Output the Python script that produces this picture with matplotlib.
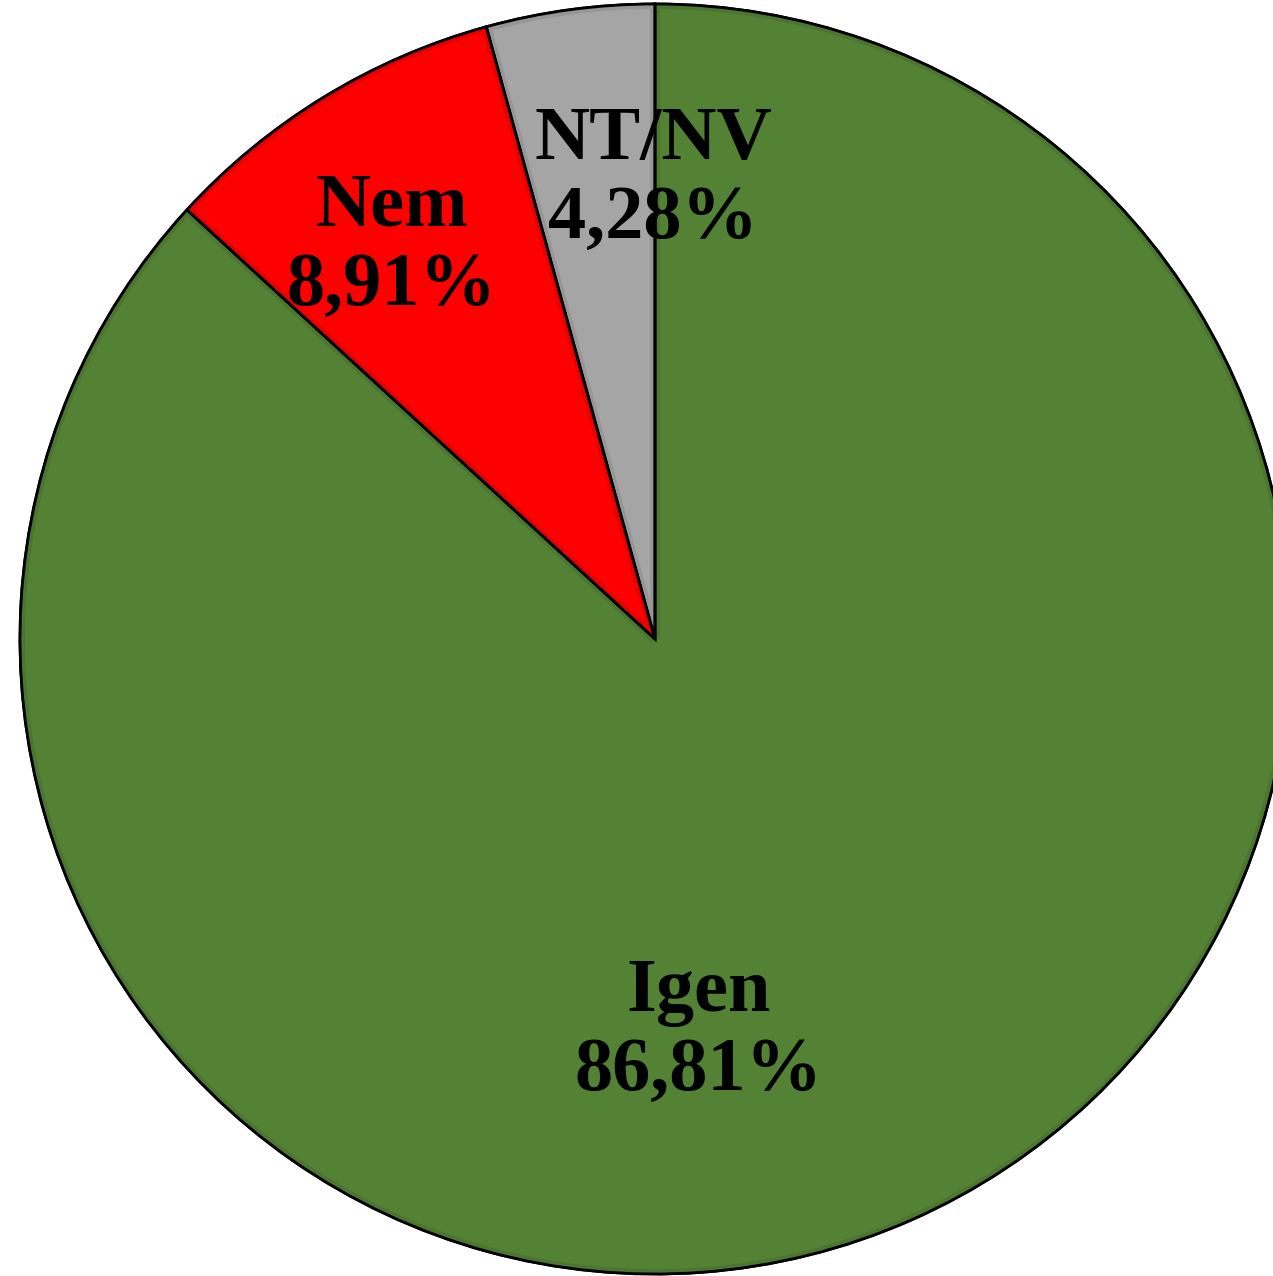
import matplotlib.pyplot as plt
from matplotlib.patches import Wedge, Rectangle

# data
labels = ['NT/NV', 'Nem', 'Igen']
values = [4.28, 8.91, 86.81]
colors = ['#A5A5A5', '#FF0000', '#548235']
band_colors = ['#969696', '#E60000', '#4C7630']
# label offsets as fraction of radius (hand placed in the original)
label_pos = [(-0.003, 0.723), (-0.415, 0.618), (0.069, -0.619)]

W, H = 1273, 1276
cx, cy, r = 655, H - 639, 635
band = 5

fig = plt.figure(figsize=(W / 100, H / 100), dpi=100)
ax = fig.add_axes([0, 0, 1, 1])

wedges, _ = ax.pie(values, colors=colors, startangle=90, counterclock=True,
                   center=(cx, cy), radius=r,
                   wedgeprops=dict(edgecolor='black', linewidth=2.0))

# darker band along the inside of each slice's edges
for w, bc in zip(wedges, band_colors):
    w.set_zorder(1)
    t1, t2 = w.theta1, w.theta2
    ax.add_patch(Wedge((cx, cy), r, t1, t2, width=band, facecolor=bc,
                       edgecolor='none', zorder=1.5))
    ax.add_patch(Rectangle((cx, cy), r, band, angle=t1, facecolor=bc,
                           edgecolor='none', zorder=1.5))
    ax.add_patch(Rectangle((cx, cy), r, -band, angle=t2, facecolor=bc,
                           edgecolor='none', zorder=1.5))

# black outline on top
outline, _ = ax.pie(values, startangle=90, counterclock=True,
                    center=(cx, cy), radius=r,
                    wedgeprops=dict(facecolor='none', edgecolor='black', linewidth=2.0))
for w in outline:
    w.set_zorder(3)

for lab, val, (dx, dy) in zip(labels, values, label_pos):
    txt = f'{lab}\n{val:.2f}%'.replace('.', ',')
    ax.text(cx + dx * r, cy + dy * r, txt, ha='center', va='center',
            fontsize=55, fontweight='bold', family='Liberation Serif',
            linespacing=1.2, zorder=4)

ax.set_xlim(0, W)
ax.set_ylim(0, H)
ax.set_aspect('equal')
ax.axis('off')

fig.savefig('out.png', dpi=100, facecolor='white')
